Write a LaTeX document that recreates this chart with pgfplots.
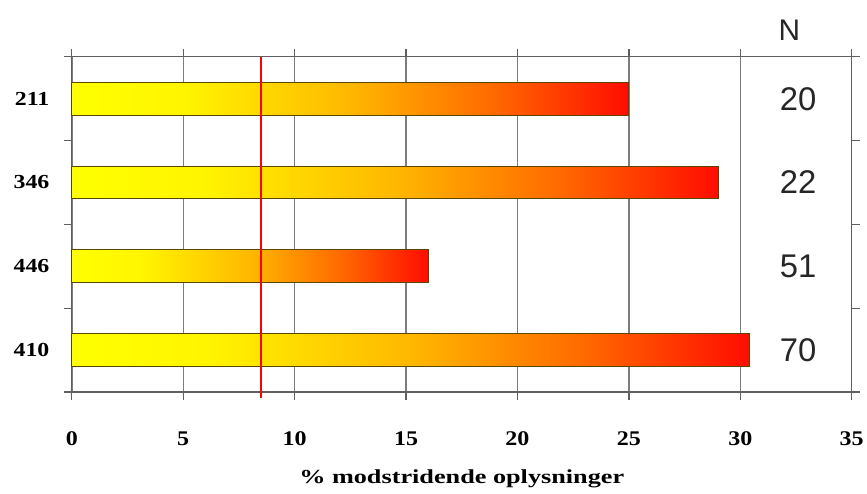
\documentclass[border=0pt]{standalone}
\usepackage{fontspec}
\setmainfont{Liberation Serif}
\newfontfamily\sansf{Liberation Sans}
\usepackage{graphicx}
\usepackage{pgfplots}
\pgfplotsset{compat=1.18}
\definecolor{gridgray}{RGB}{125,125,125}
\definecolor{axgray}{RGB}{95,95,95}
\definecolor{barline}{RGB}{90,70,0}
\pgfdeclarehorizontalshading{barshade}{100bp}{rgb(0bp)=(1,1,0); rgb(25bp)=(1,1,0); rgb(35bp)=(1,0.96,0); rgb(50bp)=(1,0.72,0); rgb(62.5bp)=(1,0.42,0); rgb(75bp)=(1,0.05,0); rgb(100bp)=(1,0.05,0)}
\pgfplotsset{gbar/.style={xbar, bar width=33bp, bar shift=0pt, draw=barline, line width=1pt,
  shade, shading=barshade}}
\begin{document}
\begin{tikzpicture}
\begin{axis}[
  scale only axis, width=782bp, height=336bp,
  xmin=0, xmax=35, ymin=-0.5, ymax=3.5, y dir=reverse,
  xtick={0,5,...,35},
  ytick={-0.5,0.5,1.5,2.5,3.5}, yticklabels={},
  extra y ticks={0,1,2,3},
  extra y tick labels={\scalebox{1.2}[1]{211},\scalebox{1.2}[1]{346},\scalebox{1.2}[1]{446},\scalebox{1.2}[1]{410}},
  extra y tick style={major tick length=0pt, yticklabel style={xshift=-19bp}},
  tick align=outside, major tick length=8bp,
  xmajorgrids, grid style={gridgray, line width=1.4pt},
  axis line style={axgray, line width=1.3pt},
  tick style={axgray, line width=1.3pt},
  xticklabel={\scalebox{1.15}[1]{\bfseries\pgfmathprintnumber[assume math mode=true]{\tick}}},
  xticklabel style={font=\fontsize{21}{21}\selectfont, yshift=-28bp},
  yticklabel style={font=\bfseries\fontsize{20}{20}\selectfont},
  clip=false,
]
\addplot[gbar] coordinates {(25,0)};
\addplot[gbar] coordinates {(29,1)};
\addplot[gbar] coordinates {(16,2)};
\addplot[gbar] coordinates {(30.4,3)};
\addplot[red, line width=1.7pt, forget plot] coordinates {(8.5,-0.5) (8.5,3.57)};
\node[font=\sansf\fontsize{30}{30}\selectfont, text=black!85] at (axis cs:32.2,-0.5) [yshift=27bp] {N};
\node[font=\sansf\fontsize{33}{33}\selectfont, text=black!85] at (axis cs:32.6,0) {20};
\node[font=\sansf\fontsize{33}{33}\selectfont, text=black!85] at (axis cs:32.6,1) {22};
\node[font=\sansf\fontsize{33}{33}\selectfont, text=black!85] at (axis cs:32.6,2) {51};
\node[font=\sansf\fontsize{33}{33}\selectfont, text=black!85] at (axis cs:32.6,3) {70};
\end{axis}
\node[anchor=base, yshift=-92bp, font=\bfseries\fontsize{20}{20}\selectfont] at (current axis.south) {\scalebox{1.32}[1]{\% modstridende oplysninger}};
\path (current axis.south west) ++(-72bp,-102bp);
\path (current axis.north east) ++(13bp,57bp);
\end{tikzpicture}
\end{document}
